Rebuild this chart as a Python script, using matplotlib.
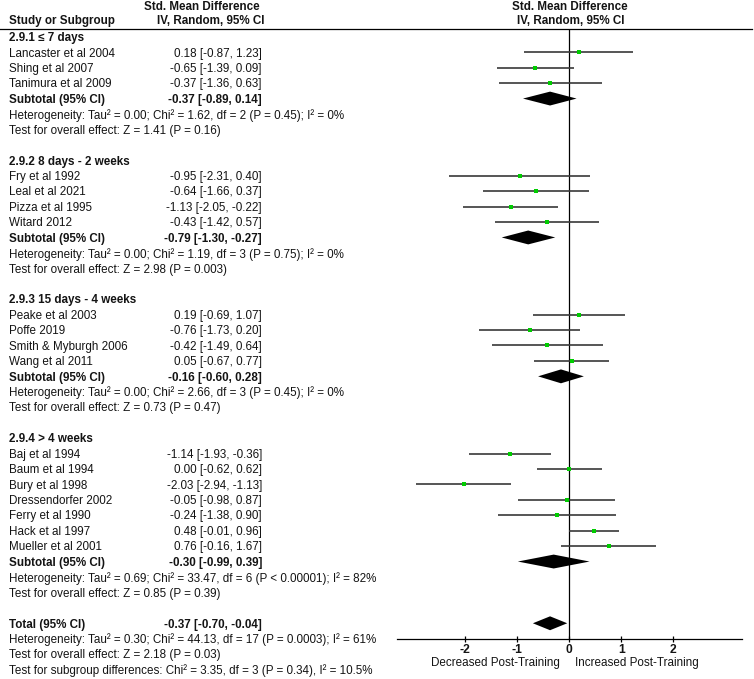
import matplotlib

matplotlib.use("Agg")
import matplotlib.pyplot as plt
from matplotlib.lines import Line2D
from matplotlib.transforms import blended_transform_factory

plt.rcParams["font.family"] = ["Liberation Sans", "DejaVu Sans"]

# ---- data -----------------------------------------------------------------
group_titles = [
    "2.9.1 \u2264 7 days",
    "2.9.2 8 days - 2 weeks",
    "2.9.3 15 days - 4 weeks",
    "2.9.4 > 4 weeks",
]
group_sizes = [3, 4, 4, 7]

studies = [
    "Lancaster et al 2004", "Shing et al 2007", "Tanimura et al 2009",
    "Fry et al 1992", "Leal et al 2021", "Pizza et al 1995", "Witard 2012",
    "Peake et al 2003", "Poffe 2019", "Smith & Myburgh 2006", "Wang et al 2011",
    "Baj et al 1994", "Baum et al 1994", "Bury et al 1998", "Dressendorfer 2002",
    "Ferry et al 1990", "Hack et al 1997", "Mueller et al 2001",
]
smd = [0.18, -0.65, -0.37,
       -0.95, -0.64, -1.13, -0.43,
       0.19, -0.76, -0.42, 0.05,
       -1.14, 0.00, -2.03, -0.05, -0.24, 0.48, 0.76]
ci_lo = [-0.87, -1.39, -1.36,
         -2.31, -1.66, -2.05, -1.42,
         -0.69, -1.73, -1.49, -0.67,
         -1.93, -0.62, -2.94, -0.98, -1.38, -0.01, -0.16]
ci_hi = [1.23, 0.09, 0.63,
         0.40, 0.37, -0.22, 0.57,
         1.07, 0.20, 0.64, 0.77,
         -0.36, 0.62, -1.13, 0.87, 0.90, 0.96, 1.67]

sub_smd = [-0.37, -0.79, -0.16, -0.30]
sub_lo = [-0.89, -1.30, -0.60, -0.99]
sub_hi = [0.14, -0.27, 0.28, 0.39]
sub_het = [
    "Heterogeneity: Tau\u00b2 = 0.00; Chi\u00b2 = 1.62, df = 2 (P = 0.45); I\u00b2 = 0%",
    "Heterogeneity: Tau\u00b2 = 0.00; Chi\u00b2 = 1.19, df = 3 (P = 0.75); I\u00b2 = 0%",
    "Heterogeneity: Tau\u00b2 = 0.00; Chi\u00b2 = 2.66, df = 3 (P = 0.45); I\u00b2 = 0%",
    "Heterogeneity: Tau\u00b2 = 0.69; Chi\u00b2 = 33.47, df = 6 (P < 0.00001); I\u00b2 = 82%",
]
sub_z = [
    "Test for overall effect: Z = 1.41 (P = 0.16)",
    "Test for overall effect: Z = 2.98 (P = 0.003)",
    "Test for overall effect: Z = 0.73 (P = 0.47)",
    "Test for overall effect: Z = 0.85 (P = 0.39)",
]

total_smd, total_lo, total_hi = -0.37, -0.70, -0.04
total_notes = [
    "Heterogeneity: Tau\u00b2 = 0.30; Chi\u00b2 = 44.13, df = 17 (P = 0.0003); I\u00b2 = 61%",
    "Test for overall effect: Z = 2.18 (P = 0.03)",
    "Test for subgroup differences: Chi\u00b2 = 3.35, df = 3 (P = 0.34), I\u00b2 = 10.5%",
]

x_ticks = [-2, -1, 0, 1, 2]
label_left = "Decreased Post-Training"
label_right = "Increased Post-Training"

# ---- layout ---------------------------------------------------------------
W, H = 754, 679
TXT = "#141414"
FS = 8.35
X_NAME = 9 / W
X_VAL = 262 / W

fig = plt.figure(figsize=(W / 100, H / 100), dpi=100)
# forest panel: 0 at px 569, 52 px per unit; rows 15.45 px apart
ax = fig.add_axes([397 / W, 1 - 638.7 / H, 345 / W, 610.2 / H])
ax.set_xlim(-3.313, 3.321)
ax.set_ylim(39, -0.54)
for s in ("top", "left", "right"):
    ax.spines[s].set_visible(False)
ax.spines["bottom"].set_linewidth(0.9)
ax.set_yticks([])
ax.set_xticks(x_ticks)
ax.set_xticklabels([str(t) for t in x_ticks], fontsize=8.7, fontweight="bold", color=TXT)
ax.tick_params(axis="x", direction="inout", length=5, width=0.9, pad=1.5)
ax.axvline(0, color="black", lw=0.9, zorder=1)

tr = blended_transform_factory(fig.transFigure, ax.transData)


def put(x, row, s, bold=False, ha="left"):
    ax.text(x, row + 0.08, s, transform=tr, ha=ha, va="center", fontsize=FS,
            fontweight="bold" if bold else "normal", color=TXT, clip_on=False)


def diamond(row, est, lo, hi):
    h = 0.45
    ax.fill([lo, est, hi, est], [row, row - h, row, row + h], color="black", lw=0, zorder=3)


row = 0
k = 0
for g, title in enumerate(group_titles):
    put(X_NAME, row, title, bold=True)
    for _ in range(group_sizes[g]):
        row += 1
        put(X_NAME, row, studies[k])
        put(X_VAL, row, f"{smd[k]:.2f} [{ci_lo[k]:.2f}, {ci_hi[k]:.2f}]", ha="right")
        ax.plot([ci_lo[k], ci_hi[k]], [row, row], color="#383838", lw=1.2, zorder=2,
                solid_capstyle="butt")
        ax.plot(smd[k], row, "s", color="#00cc00", ms=2.6, mew=0, zorder=4)
        k += 1
    row += 1
    put(X_NAME, row, "Subtotal (95% CI)", bold=True)
    put(X_VAL, row, f"{sub_smd[g]:.2f} [{sub_lo[g]:.2f}, {sub_hi[g]:.2f}]", bold=True, ha="right")
    diamond(row, sub_smd[g], sub_lo[g], sub_hi[g])
    put(X_NAME, row + 1, sub_het[g])
    put(X_NAME, row + 2, sub_z[g])
    row += 4

put(X_NAME, row, "Total (95% CI)", bold=True)
put(X_VAL, row, f"{total_smd:.2f} [{total_lo:.2f}, {total_hi:.2f}]", bold=True, ha="right")
diamond(row, total_smd, total_lo, total_hi)
for i, note in enumerate(total_notes):
    put(X_NAME, row + 1 + i, note)

# axis direction labels
ax.text(-0.19, 40.58, label_left, ha="right", va="center", fontsize=FS, color=TXT, clip_on=False)
ax.text(0.11, 40.58, label_right, ha="left", va="center", fontsize=FS, color=TXT, clip_on=False)

# header
fig.text(202 / W, 1 - 6.5 / H, "Std. Mean Difference", ha="center", va="center",
         fontsize=FS, fontweight="bold", color=TXT)
fig.text(211 / W, 1 - 21 / H, "IV, Random, 95% CI", ha="center", va="center",
         fontsize=FS, fontweight="bold", color=TXT)
fig.text(X_NAME, 1 - 21 / H, "Study or Subgroup", ha="left", va="center",
         fontsize=FS, fontweight="bold", color=TXT)
fig.text(569.5 / W, 1 - 6.5 / H, "Std. Mean Difference", ha="center", va="center",
         fontsize=FS, fontweight="bold", color=TXT)
fig.text(571 / W, 1 - 21 / H, "IV, Random, 95% CI", ha="center", va="center",
         fontsize=FS, fontweight="bold", color=TXT)
fig.add_artist(Line2D([0, 752 / W], [1 - 28.5 / H] * 2, transform=fig.transFigure,
                      color="black", lw=0.9))

fig.savefig("out.png", dpi=100)
